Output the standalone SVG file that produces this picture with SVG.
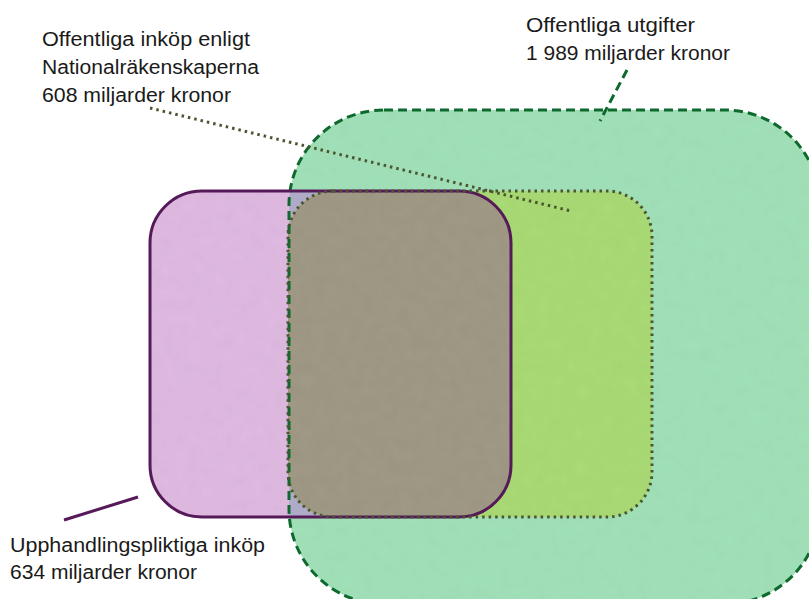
<svg xmlns="http://www.w3.org/2000/svg" width="809" height="599" viewBox="0 0 809 599">
<style>
text{font-family:"Liberation Sans","Open Sans",sans-serif;font-size:20px;fill:#1a1a1a}
.g-stroke{fill:none;stroke:#0d6a2c;stroke-width:3;stroke-dasharray:9 5}
.p-stroke{fill:none;stroke:#561a58;stroke-width:3}
.o-stroke{fill:none;stroke:#4a5630;stroke-width:3;stroke-dasharray:2.5 4}
</style>
<defs>
<clipPath id="clipGreen"><rect x="289" y="110" width="531" height="494" rx="95"/></clipPath>
<clipPath id="clipPurple"><rect x="150" y="191" width="361" height="326" rx="52"/></clipPath>
<filter id="tex" x="0" y="0" width="100%" height="100%">
<feTurbulence type="fractalNoise" baseFrequency="0.08" numOctaves="2" seed="3" result="n"/>
<feColorMatrix in="n" type="matrix" values="0 0 0 0 0  0 0 0 0 0  0 0 0 0 0  0 0 0 0.07 0" result="d"/>
<feComposite in="d" in2="SourceGraphic" operator="in" result="dm"/>
<feMerge><feMergeNode in="SourceGraphic"/><feMergeNode in="dm"/></feMerge>
</filter>
</defs>

<g id="node-offentliga-utgifter">
<rect x="289" y="110" width="531" height="494" rx="95" fill="#a2e2b9" filter="url(#tex)"/>
</g>

<g id="node-upphandlingspliktiga">
<rect x="150" y="191" width="361" height="326" rx="52" fill="#e0bae2" filter="url(#tex)"/>
<rect x="150" y="191" width="361" height="326" rx="52" fill="#aeaac8" clip-path="url(#clipGreen)"/>
</g>

<g id="node-nationalrakenskaperna">
<rect x="288" y="191" width="364" height="326" rx="45" fill="#aadb76" filter="url(#tex)"/>
<rect x="288" y="191" width="364" height="326" rx="45" fill="#a09a86" clip-path="url(#clipPurple)" filter="url(#tex)"/>
</g>

<g id="outlines">
<rect class="g-stroke" x="289" y="110" width="531" height="494" rx="95"/>
<rect class="p-stroke" x="150" y="191" width="361" height="326" rx="52"/>
<rect class="o-stroke" x="288" y="191" width="364" height="326" rx="45"/>
</g>

<g id="connectors">
<line class="g-stroke" x1="627" y1="70" x2="600" y2="121"/>
<line class="o-stroke" x1="150" y1="108" x2="571" y2="211"/>
<line class="p-stroke" x1="64" y1="520" x2="138" y2="497"/>
</g>

<g id="labels">
<text x="42" y="46" textLength="208" lengthAdjust="spacingAndGlyphs">Offentliga inköp enligt</text>
<text x="42" y="74" textLength="217" lengthAdjust="spacingAndGlyphs">Nationalräkenskaperna</text>
<text x="42" y="102" textLength="189" lengthAdjust="spacingAndGlyphs">608 miljarder kronor</text>
<text x="526" y="32" textLength="169" lengthAdjust="spacingAndGlyphs">Offentliga utgifter</text>
<text x="526" y="60" textLength="204" lengthAdjust="spacingAndGlyphs">1 989 miljarder kronor</text>
<text x="10" y="552" textLength="255" lengthAdjust="spacingAndGlyphs">Upphandlingspliktiga inköp</text>
<text x="10" y="579" textLength="187" lengthAdjust="spacingAndGlyphs">634 miljarder kronor</text>
</g>
</svg>
